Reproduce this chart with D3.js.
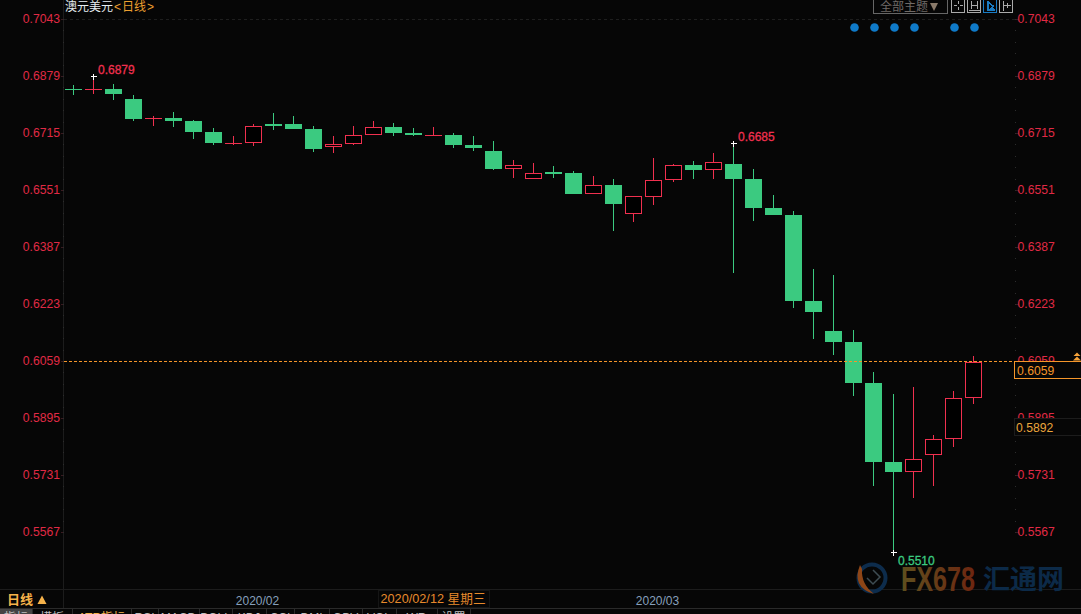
<!DOCTYPE html>
<html lang="zh">
<head>
<meta charset="utf-8">
<style>
html,body{margin:0;padding:0;background:#060606;overflow:hidden}
svg{display:block}
text{font-family:"Liberation Sans","Noto Sans CJK SC",sans-serif}
.axis path{display:none}
</style>
<script src="https://cdn.jsdelivr.net/npm/d3@7/dist/d3.min.js"></script>
</head>
<body>
<svg id="chart" width="1081" height="614"></svg>
<script>
const dates = ["01/21","01/22","01/23","01/24","01/27","01/28","01/29","01/30","01/31",
  "02/03","02/04","02/05","02/06","02/07","02/10","02/11","02/12","02/13","02/14",
  "02/17","02/18","02/19","02/20","02/21","02/24","02/25","02/26","02/27","02/28",
  "03/02","03/03","03/04","03/05","03/06","03/09","03/10","03/11","03/12","03/13",
  "03/16","03/17","03/18","03/19","03/20","03/23","03/24"];
const opens = [.68402,.68402,.68416,.68128,.67573,.67582,.67495,.67179,.66854,.66871,
  .67409,.67409,.67265,.66747,.66842,.67101,.67323,.67150,.67084,.67092,.66805,.66632,
  .66123,.65835,.66028,.65999,.65404,.65654,.64828,.65317,.65806,.66229,.66094,.66258,
  .65826,.64992,.64791,.62316,.61453,.61137,.59957,.57684,.57405,.57877,.58354,.59534];
const closes = [.68402,.68402,.68272,.67553,.67573,.67495,.67179,.66862,.66854,.67343,
  .67351,.67265,.66690,.66833,.67084,.67314,.67150,.67092,.67084,.66805,.66718,.66114,
  .66221,.65990,.65970,.65395,.65645,.65107,.65329,.65789,.66221,.66085,.66307,.65826,
  .64992,.64791,.62316,.62000,.61137,.59957,.57684,.57396,.57779,.58337,.59517,.60553];
const highs = [.68517,.6879,.68560,.68243,.67639,.67754,.67524,.67294,.67064,.67409,
  .67725,.67639,.67351,.67064,.67351,.67495,.67438,.67294,.67323,.67150,.67064,.66920,
  .66373,.66287,.66201,.66057,.65913,.65826,.65078,.66431,.66258,.66344,.66575,.6685,
  .66114,.65366,.64906,.63237,.63064,.61482,.60273,.59640,.59842,.58461,.59727,.60734];
const lows = [.68243,.68272,.68108,.67495,.67351,.67323,.66977,.66805,.66805,.66776,
  .67236,.67265,.66603,.66575,.66805,.67101,.67064,.67064,.67084,.66718,.66632,.66085,
  .65855,.65835,.65855,.65395,.65404,.64330,.64589,.65078,.65740,.65826,.65826,.63122,
  .64618,.64791,.62115,.61223,.60763,.59583,.56993,.5510,.56648,.56993,.58124,.59353];
const tickValues = [0.7043,0.6879,0.6715,0.6551,0.6387,0.6223,0.6059,0.5895,0.5731,0.5567];
const minorStep = 0.00328;
const monthTicks = [["02/03","2020/02"],["03/02","2020/03"]];
const signalDates = ["03/16","03/17","03/18","03/19","03/23","03/24"];
const lastPrice = 0.6059, cursorPrice = 0.5892, cursorLabel = "2020/02/12 星期三";
const highMarks = [["01/22",0.6879],["03/06",0.6685]];
const lowMark = ["03/18",0.5510];
const title = "澳元美元", period = ["<","日线",">"], periodTab = "日线";
const tabs = ["指标","模板","ATR指标","RSI","MACD","BOLL","KDJ","CCI","DMI","OBV","VOL","WR","设置"];
const tabEdges = [0,32,72,131,158,199,232,266,294,329,362,396,437,470];

const RED="#f0304f", AXRED="#e02a45", GREEN="#3bca80", ORANGE="#f5962a";
const svg = d3.select("#chart");
const x = d3.scaleBand().domain(dates).range([63.5,983.5]);
const y = d3.scaleLinear().domain([0.5567,0.7043]).range([532,19]);
const cx = d => x(d)+x.bandwidth()/2;

// frame
const frame = svg.append("g").attr("stroke","#1c1c1c").attr("fill","none").attr("shape-rendering","crispEdges");
frame.append("line").attr("x1",63.5).attr("x2",63.5).attr("y1",0).attr("y2",608);
frame.append("line").attr("x1",0).attr("x2",1081).attr("y1",589.5).attr("y2",589.5);
frame.append("line").attr("x1",0).attr("x2",1081).attr("y1",608.5).attr("y2",608.5).attr("stroke","#2a2a2a");
svg.append("line").attr("x1",64).attr("x2",1015).attr("y1",19.5).attr("y2",19.5)
  .attr("stroke","#1e1e1e").attr("stroke-dasharray","3 3").attr("shape-rendering","crispEdges");

// axes
const minor = d3.range(0,46).map(i=>0.7043-i*minorStep);
function axisPair(gen,tx,anchor,labelX){
  const g = svg.append("g").attr("class","axis").attr("transform",`translate(${tx},0)`)
    .call(gen.tickValues(tickValues).tickSize(3).tickFormat(d3.format(".4f")));
  g.selectAll("text").attr("fill",AXRED).attr("font-size",12.2).attr("text-anchor",anchor).attr("x",labelX);
  g.selectAll("line").attr("stroke","#3a1a20").attr("shape-rendering","crispEdges");
  return g;
}
axisPair(d3.axisLeft(y),63.5,"end",-3.5);
axisPair(d3.axisRight(y),1015.5,"start",2);
[63.5,1015.5].forEach(px=>{
  svg.append("g").selectAll("rect").data(minor).join("rect")
    .attr("x",px-0.5).attr("width",1).attr("height",1).attr("y",d=>Math.round(y(d)))
    .attr("fill","#2c2c2c");
});

// candles
const candles = dates.map((d,i)=>({d,o:opens[i],c:closes[i],h:highs[i],l:lows[i]}));
const colorOf = k => k.c>k.o ? RED : (k.c<k.o ? GREEN : (k.d==="01/21"?GREEN:RED));
const G = svg.append("g").selectAll("g").data(candles).join("g").attr("shape-rendering","crispEdges");
G.append("line").attr("x1",k=>cx(k.d)).attr("x2",k=>cx(k.d))
  .attr("y1",k=>Math.round(y(k.h))).attr("y2",k=>Math.round(y(k.l)))
  .attr("stroke",colorOf);
G.each(function(k){
  const s=d3.select(this), top=Math.round(y(Math.max(k.o,k.c))), bot=Math.round(y(Math.min(k.o,k.c)));
  const col=colorOf(k), left=cx(k.d)-8.5;
  if(bot-top<1){
    s.append("line").attr("x1",left).attr("x2",left+17).attr("y1",top+.5).attr("y2",top+.5).attr("stroke",col);
  } else if(k.c>k.o){
    s.append("rect").attr("x",left+.5).attr("width",16).attr("y",top+.5).attr("height",bot-top-1)
      .attr("fill","#000").attr("stroke",col);
  } else {
    s.append("rect").attr("x",left).attr("width",17).attr("y",top).attr("height",bot-top).attr("fill",col);
  }
});

// extreme marks
function cross(d,v){
  const px=cx(d), py=Math.round(y(v))+.5;
  svg.append("path").attr("d",`M${px-3},${py}H${px+3.5}M${px},${py-3}V${py+3}`)
    .attr("stroke","#fff").attr("fill","none").attr("shape-rendering","crispEdges");
  return [px,py];
}
highMarks.forEach(([d,v])=>{
  const [px,py]=cross(d,v);
  svg.append("text").attr("x",px+4.5).attr("y",py-2.5).attr("fill",RED).attr("font-size",12)
    .attr("stroke",RED).attr("stroke-width",.3).text(d3.format(".4f")(v));
});
{
  const [px,py]=cross(lowMark[0],lowMark[1]);
  svg.append("text").attr("x",px+4.5).attr("y",py+12).attr("fill",GREEN).attr("font-size",12)
    .attr("stroke",GREEN).attr("stroke-width",.3).text(d3.format(".4f")(lowMark[1]));
}

// signal dots
svg.append("g").selectAll("circle").data(signalDates).join("circle")
  .attr("cx",d=>cx(d)+1).attr("cy",27.5).attr("r",4.3).attr("fill","#0f7ac8");

// last price line and boxes
const lastY = Math.round(y(lastPrice))+.5;
svg.append("line").attr("x1",64).attr("x2",1015).attr("y1",lastY).attr("y2",lastY)
  .attr("stroke",ORANGE).attr("stroke-dasharray","3 2").attr("shape-rendering","crispEdges");
svg.append("rect").attr("x",1014.5).attr("y",lastY).attr("width",70).attr("height",17)
  .attr("fill","#060606").attr("stroke",ORANGE).attr("shape-rendering","crispEdges");
svg.append("text").attr("x",1017).attr("y",lastY+13).attr("fill",ORANGE).attr("font-size",12.2).text(lastPrice.toFixed(4));
svg.append("path").attr("d",`M1077,352.5l3.5,3.5h-7zM1077,356.5l4,4h-8z`).attr("fill","#f5a23a");
const curY = Math.round(y(cursorPrice));
svg.append("rect").attr("x",1014.5).attr("y",curY-0.5).attr("width",70).attr("height",17)
  .attr("fill","#060606").attr("stroke","#1c1c1c").attr("shape-rendering","crispEdges");
svg.append("text").attr("x",1016).attr("y",curY+13).attr("fill","#eaa53c").attr("font-size",12.2).text(cursorPrice.toFixed(4));

// title
svg.append("text").attr("x",65).attr("y",11).attr("font-size",12).attr("fill","#e8eef2").text(title);
[[114,period[0]],[122,period[1]],[147,period[2]]].forEach(([px,s])=>{
  svg.append("text").attr("x",px).attr("y",11).attr("font-size",12).attr("fill","#eea030").text(s);
});

// toolbar
const tb = svg.append("g").attr("fill","none").attr("shape-rendering","crispEdges");
tb.append("rect").attr("x",873.5).attr("y",-1).attr("width",74).attr("height",14).attr("stroke","#666");
svg.append("text").attr("x",880).attr("y",10.5).attr("font-size",12).attr("fill","#6f6a66").text("全部主题");
svg.append("path").attr("d","M930,3h8l-4,8z").attr("fill","#8a7a6a");
[[951.5,"#aaa"],[967.5,"#aaa"],[983.5,"#1a7cc4"],[999.5,"#aaa"]].forEach(([bx,c],i)=>{
  tb.append("rect").attr("x",bx).attr("y",-1).attr("width",13).attr("height",13).attr("stroke",c);
  const p=[`M${bx+2},5.5h3M${bx+8},5.5h3M${bx+6.5},1v3M${bx+6.5},7v3`,
           `M${bx+3.5},1v8M${bx+9.5},1v8M${bx+1},10.5h11M${bx+3.5},5.5h6`,
           `M${bx+3.5},1v9h8M${bx+5},2l5,4l-5,4z`,
           `M${bx+3.5},1v10M${bx+4},5.5h7M${bx+8},3v5`][i];
  tb.append("path").attr("d",p).attr("stroke",c).attr("fill",i===2?c:"none");
});

// month axis
const monthLabel = new Map(monthTicks);
const ax = svg.append("g").attr("class","axis").attr("transform","translate(4,590)")
  .call(d3.axisBottom(x).tickValues(monthTicks.map(m=>m[0])).tickSize(0).tickPadding(0).tickFormat(d=>monthLabel.get(d)));
ax.selectAll("text").attr("fill","#86a0bc").attr("font-size",12).attr("y",6).attr("dy","0.71em");

// cursor date
svg.append("rect").attr("x",378.5).attr("y",590.5).attr("width",111).attr("height",17)
  .attr("fill","#060606").attr("stroke","#151515").attr("shape-rendering","crispEdges");
svg.append("text").attr("x",380.5).attr("y",603).attr("fill","#e88a2c").attr("font-size",12.7).text(cursorLabel);

// period box
svg.append("text").attr("x",7).attr("y",604).attr("fill","#f5b24a").attr("font-size",13).attr("font-weight","bold").text(periodTab);
svg.append("path").attr("d","M42,595.5l4.5,8.5h-9z").attr("fill","#f5b24a");

// tabs (cut by the window edge)
svg.append("rect").attr("x",0).attr("y",609).attr("width",32).attr("height",5).attr("fill","#444");
tabs.forEach((s,i)=>{
  const a=tabEdges[i], b=tabEdges[i+1];
  svg.append("line").attr("x1",b+.5).attr("x2",b+.5).attr("y1",609).attr("y2",614).attr("stroke","#2a2a2a");
  svg.append("text").attr("x",(a+b)/2).attr("y",621.5).attr("text-anchor","middle").attr("font-size",12)
    .attr("fill",i===2?"#f5b24a":"#bdbdbd").text(s);
});

// watermark
const defs = svg.append("defs");
const grad = defs.append("linearGradient").attr("id","fx");
grad.append("stop").attr("offset","0").attr("stop-color","#5e4f1e");
grad.append("stop").attr("offset","1").attr("stop-color","#6e2610");
const wm = svg.append("g");
wm.append("circle").attr("cx",872).attr("cy",578).attr("r",13.5).attr("fill","none").attr("stroke","#0d2c4c").attr("stroke-width",4);
wm.append("path").attr("d","M860,565 Q851,587 874,594 Q861,584 862,569z").attr("fill","#8e4516");
wm.append("path").attr("d","M873,570l7,7l-7,7l-6,-6").attr("fill","none").attr("stroke","#3e4c52").attr("stroke-width",1.5);
wm.append("text").attr("x",901).attr("y",591).attr("font-size",35).attr("font-weight","bold")
  .attr("textLength",74).attr("lengthAdjust","spacingAndGlyphs").attr("fill","url(#fx)").text("FX678");
wm.append("text").attr("x",983).attr("y",589).attr("font-size",27).attr("font-weight","bold")
  .attr("textLength",81).attr("lengthAdjust","spacingAndGlyphs").attr("fill","#0c2a48").text("汇通网");
</script>
</body>
</html>
